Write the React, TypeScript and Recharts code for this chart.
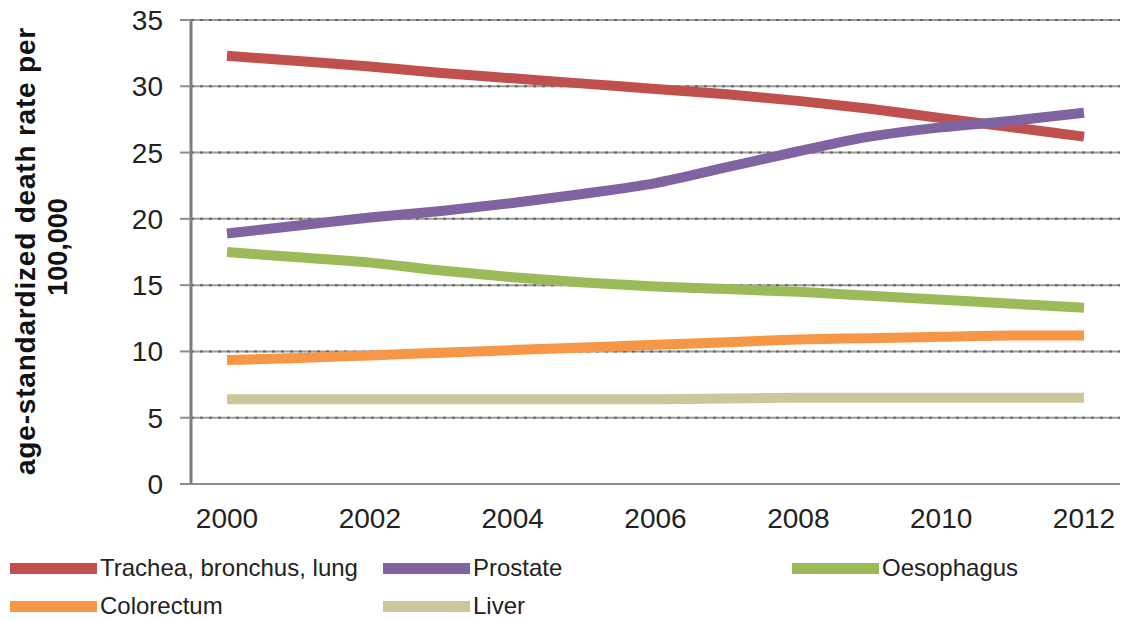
import React from 'react';
import {
  LineChart,
  Line,
  XAxis,
  YAxis,
  CartesianGrid,
} from 'recharts';

const years = ['2000', '2001', '2002', '2003', '2004', '2005', '2006', '2007', '2008', '2009', '2010', '2011', '2012'];

const trachea = [32.3, 31.9, 31.5, 31.0, 30.6, 30.2, 29.8, 29.4, 28.9, 28.3, 27.6, 26.9, 26.2];
const prostate = [18.9, 19.5, 20.1, 20.6, 21.2, 21.9, 22.7, 23.9, 25.1, 26.2, 26.9, 27.4, 28.0];
const oesophagus = [17.5, 17.1, 16.7, 16.1, 15.6, 15.2, 14.9, 14.7, 14.5, 14.2, 13.9, 13.6, 13.3];
const colorectum = [9.35, 9.5, 9.7, 9.9, 10.1, 10.3, 10.5, 10.7, 10.9, 11.0, 11.1, 11.2, 11.2];
const liver = [6.4, 6.4, 6.4, 6.4, 6.4, 6.4, 6.4, 6.45, 6.5, 6.5, 6.5, 6.5, 6.5];

const yTicks = [0, 5, 10, 15, 20, 25, 30, 35];

const series = [
  { key: 'trachea', name: 'Trachea, bronchus, lung', color: '#C0504D', values: trachea },
  { key: 'prostate', name: 'Prostate', color: '#8064A2', values: prostate },
  { key: 'oesophagus', name: 'Oesophagus', color: '#9BBB59', values: oesophagus },
  { key: 'colorectum', name: 'Colorectum', color: '#F79646', values: colorectum },
  { key: 'liver', name: 'Liver', color: '#CBC69B', values: liver },
];

const data = years.map((year, i) => {
  const row: Record<string, string | number> = { year };
  series.forEach((s) => {
    row[s.key] = s.values[i];
  });
  return row;
});

const font = '"Liberation Sans", Arial, sans-serif';

// legend slots, laid out like the original (3 columns, 2 rows)
const legendCols = [10, 383, 792];
const legendRows = [568, 606];

const YLabel = () => (
  <g>
    <text
      transform="translate(35, 251) rotate(-90)"
      textAnchor="middle"
      fontFamily={font}
      fontWeight="bold"
      fontSize={28}
      letterSpacing={0.8}
      fill="#111"
    >
      age-standardized death rate per
    </text>
    <text
      transform="translate(67, 247) rotate(-90)"
      textAnchor="middle"
      fontFamily={font}
      fontWeight="bold"
      fontSize={27}
      fill="#111"
    >
      100,000
    </text>
  </g>
);

const App: React.FC = () => {
  return (
    <div style={{ position: 'absolute', left: 0, top: 0, width: 1127, height: 620, background: '#fff' }}>
      <LineChart
        width={1127}
        height={620}
        data={data}
        margin={{ top: 20, right: 7, left: 0, bottom: 86 }}
      >
        <CartesianGrid vertical={false} stroke="#9c9c9c" strokeWidth={2} />
        <CartesianGrid vertical={false} stroke="#666" strokeWidth={2} strokeDasharray="3 6" />
        <XAxis
          dataKey="year"
          interval={1}
          height={50}
          padding={{ left: 36, right: 36 }}
          axisLine={{ stroke: '#8c8c8c', strokeWidth: 2 }}
          tickLine={false}
          tickSize={0}
          tickMargin={24}
          tick={{ fontSize: 28, fill: '#222', fontFamily: font }}
        />
        <YAxis
          width={191}
          domain={[0, 35]}
          ticks={yTicks}
          interval={0}
          axisLine={{ stroke: '#7c7c7c', strokeWidth: 3 }}
          tickLine={{ stroke: '#8c8c8c', strokeWidth: 2 }}
          tickSize={11}
          tickMargin={17}
          tick={{ fontSize: 28, fill: '#222', fontFamily: font }}
        />
        {series.map((s) => (
          <Line
            key={s.key}
            dataKey={s.key}
            name={s.name}
            type="monotone"
            stroke={s.color}
            strokeWidth={10}
            dot={false}
            activeDot={false}
            isAnimationActive={false}
          />
        ))}
        <YLabel />
      </LineChart>
      {series.map((s, i) => {
        const col = i < 3 ? i : i - 3;
        const row = i < 3 ? 0 : 1;
        return (
          <div
            key={s.key}
            style={{
              position: 'absolute',
              left: legendCols[col],
              top: legendRows[row] - 15,
              height: 30,
              display: 'flex',
              alignItems: 'center',
              fontFamily: font,
              fontSize: 24,
              color: '#222',
              whiteSpace: 'nowrap',
            }}
          >
            <div style={{ width: 87, height: 11, background: s.color, marginRight: 3 }} />
            <span>{s.name}</span>
          </div>
        );
      })}
    </div>
  );
};

export default App;
